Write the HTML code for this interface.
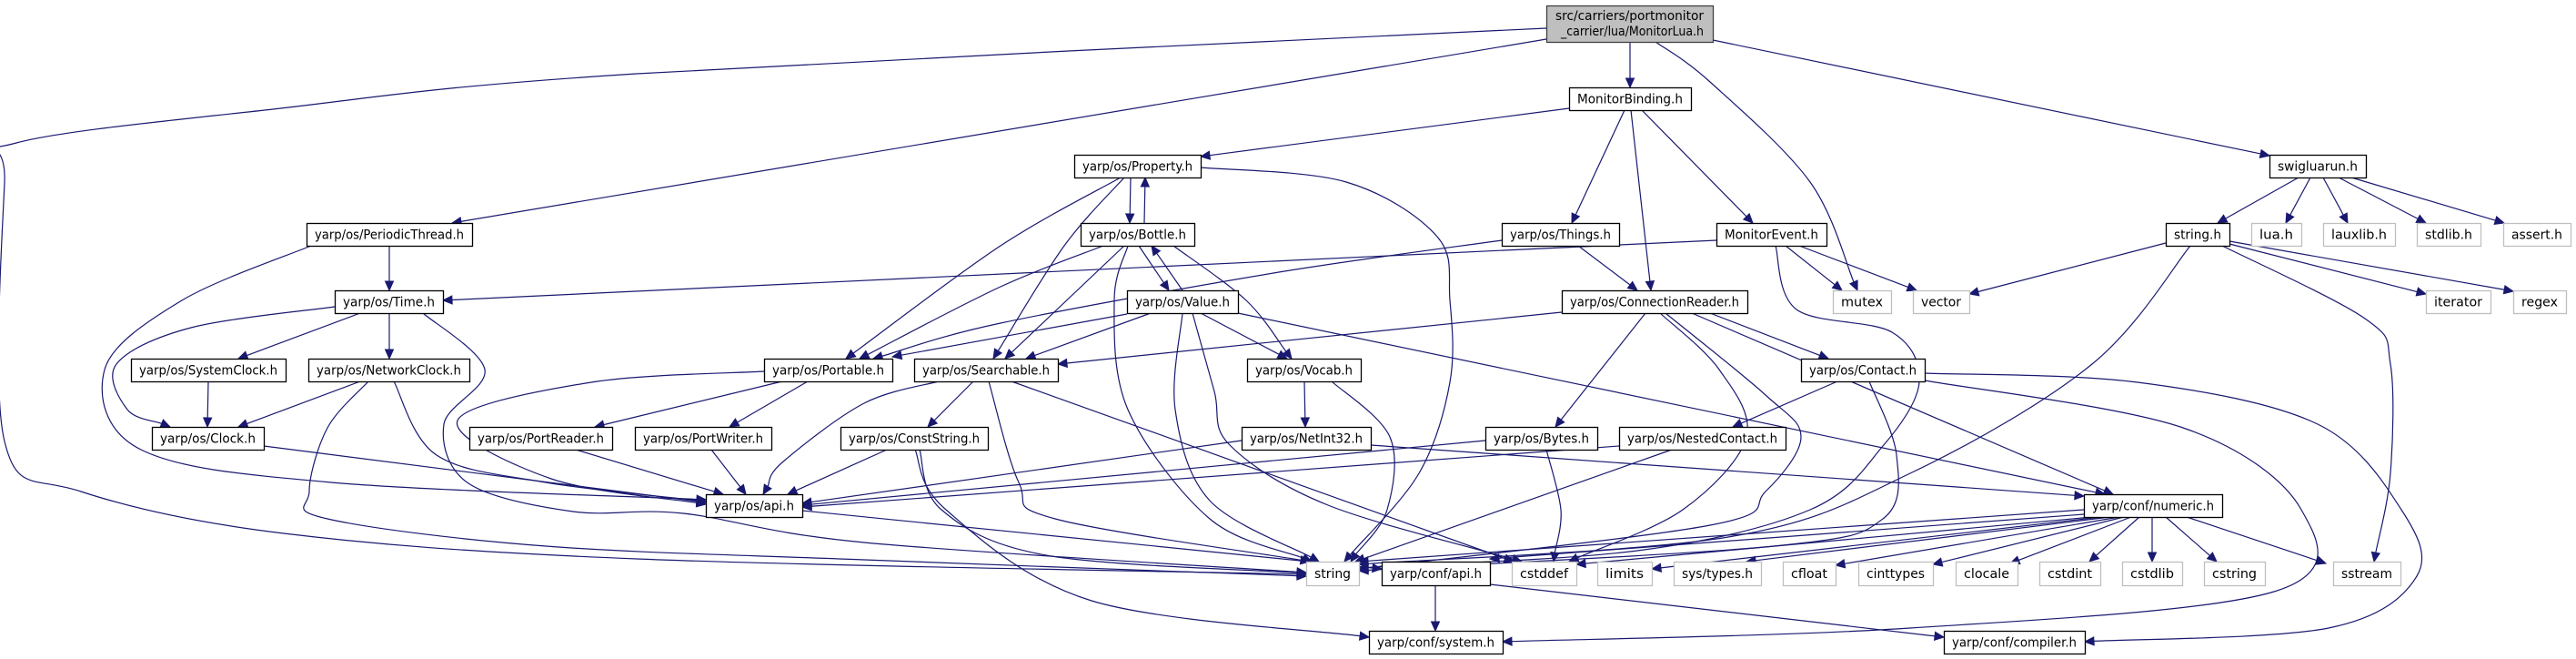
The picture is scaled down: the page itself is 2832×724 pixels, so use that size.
<!DOCTYPE html>
<html><head><meta charset="utf-8"><style>
html,body{margin:0;padding:0;background:#fff;width:2832px;height:724px;overflow:hidden}
svg{display:block}
text{font-family:"DejaVu Sans","Liberation Sans",sans-serif;font-size:14px;fill:#000}
</style></head><body>
<svg id="g" width="2832" height="724" viewBox="0 0 2832 724" xmlns="http://www.w3.org/2000/svg">
<g id="edges"></g>
<g id="nodes"></g>
</svg>
<script>
// node: [id, label(s), x1, y1, x2, y2, kind]  kind: r=root, i=internal, e=external
const nodes = [
 ["root",["src/carriers/portmonitor","_carrier/lua/MonitorLua.h"],1700,6,1883,46,"r"],
 ["mb",["MonitorBinding.h"],1725,96,1859,121,"i"],
 ["property",["yarp/os/Property.h"],1181,170,1320,195,"i"],
 ["swig",["swigluarun.h"],2495,170,2601,195,"i"],
 ["periodic",["yarp/os/PeriodicThread.h"],337,245,519,270,"i"],
 ["bottle",["yarp/os/Bottle.h"],1188,245,1313,270,"i"],
 ["things",["yarp/os/Things.h"],1651,245,1780,270,"i"],
 ["mevent",["MonitorEvent.h"],1887,245,2008,270,"i"],
 ["stringh",["string.h"],2381,245,2451,270,"i"],
 ["lua",["lua.h"],2475,245,2530,270,"e"],
 ["lauxlib",["lauxlib.h"],2554,245,2633,270,"e"],
 ["stdlib",["stdlib.h"],2657,245,2727,270,"e"],
 ["assert",["assert.h"],2752,245,2826,270,"e"],
 ["time",["yarp/os/Time.h"],368,319,487,344,"i"],
 ["value",["yarp/os/Value.h"],1239,319,1361,344,"i"],
 ["connreader",["yarp/os/ConnectionReader.h"],1717,319,1921,344,"i"],
 ["mutex",["mutex"],2015,319,2079,344,"e"],
 ["vector",["vector"],2103,319,2165,344,"e"],
 ["iterator",["iterator"],2667,319,2738,344,"e"],
 ["regex",["regex"],2763,319,2821,344,"e"],
 ["sysclock",["yarp/os/SystemClock.h"],144,394,314,419,"i"],
 ["netclock",["yarp/os/NetworkClock.h"],339,394,516,419,"i"],
 ["portable",["yarp/os/Portable.h"],840,394,981,419,"i"],
 ["searchable",["yarp/os/Searchable.h"],1005,394,1163,419,"i"],
 ["vocab",["yarp/os/Vocab.h"],1371,394,1496,419,"i"],
 ["contact",["yarp/os/Contact.h"],1980,394,2116,419,"i"],
 ["clock",["yarp/os/Clock.h"],167,469,290,494,"i"],
 ["preader",["yarp/os/PortReader.h"],516,469,673,494,"i"],
 ["pwriter",["yarp/os/PortWriter.h"],698,469,848,494,"i"],
 ["conststr",["yarp/os/ConstString.h"],924,469,1086,494,"i"],
 ["netint",["yarp/os/NetInt32.h"],1365,469,1507,494,"i"],
 ["bytes",["yarp/os/Bytes.h"],1633,469,1756,494,"i"],
 ["nested",["yarp/os/NestedContact.h"],1780,469,1963,494,"i"],
 ["api",["yarp/os/api.h"],776,543,882,568,"i"],
 ["numeric",["yarp/conf/numeric.h"],2291,543,2443,568,"i"],
 ["string",["string"],1436,617,1494,643,"e"],
 ["confapi",["yarp/conf/api.h"],1519,617,1638,643,"i"],
 ["cstddef",["cstddef"],1662,617,1733,643,"e"],
 ["limits",["limits"],1756,617,1816,643,"e"],
 ["systypes",["sys/types.h"],1840,617,1936,643,"e"],
 ["cfloat",["cfloat"],1960,617,2018,643,"e"],
 ["cinttypes",["cinttypes"],2043,617,2125,643,"e"],
 ["clocale",["clocale"],2150,617,2218,643,"e"],
 ["cstdint",["cstdint"],2242,617,2309,643,"e"],
 ["cstdlib",["cstdlib"],2333,617,2399,643,"e"],
 ["cstring",["cstring"],2423,617,2490,643,"e"],
 ["sstream",["sstream"],2565,617,2639,643,"e"],
 ["system",["yarp/conf/system.h"],1505,693,1652,718,"i"],
 ["compiler",["yarp/conf/compiler.h"],2137,693,2292,718,"i"]
];
// edges: [name, points...]
const edges = [
 ["root-string",[1700,31],[700,81],[300,120],[18,157],[5,200],[5,485],[89,540],[312,586],[700,614],[1436,631]],
 ["root-periodic",[1700,43],[497,245]],
 ["root-mb",[1792,46],[1792,96]],
 ["root-mutex",[1820,46],[1880,90],[1990,200],[2042,319]],
 ["root-swig",[1883,44],[2495,171]],
 ["mb-property",[1725,119],[1320,172]],
 ["mb-things",[1786,121],[1728,245]],
 ["mb-connreader",[1793,121],[1815,319]],
 ["mb-mevent",[1805,121],[1927,245]],
 ["property-bottle",[1243,195],[1242,245]],
 ["bottle-property",[1258,245],[1259,195]],
 ["property-portable",[1232,195],[1100,270],[930,394]],
 ["property-searchable",[1236,195],[1170,270],[1092,394]],
 ["property-string",[1320,184],[1480,200],[1580,260],[1594,330],[1594,420],[1560,520],[1478,617]],
 ["bottle-portable",[1213,270],[1100,315],[945,394]],
 ["bottle-searchable",[1236,270],[1105,394]],
 ["bottle-value",[1252,270],[1285,319]],
 ["value-bottle",[1300,319],[1266,270]],
 ["bottle-vocab",[1290,270],[1370,330],[1420,394]],
 ["bottle-string",[1240,270],[1225,330],[1240,450],[1330,570],[1442,617]],
 ["things-portable",[1651,264],[1400,300],[1100,355],[960,394]],
 ["things-connreader",[1735,270],[1800,319]],
 ["mevent-time",[1887,264],[487,330]],
 ["mevent-mutex",[1963,270],[2025,319]],
 ["mevent-vector",[1978,270],[2107,319]],
 ["mevent-string",[1952,270],[1975,340],[2080,365],[2110,420],[2070,490],[1990,560],[1800,605],[1494,624]],
 ["periodic-time",[428,270],[428,319]],
 ["periodic-api",[342,270],[200,330],[115,406],[155,494],[364,530],[776,549]],
 ["time-sysclock",[396,344],[262,394]],
 ["time-netclock",[428,344],[428,394]],
 ["time-clock",[368,337],[210,360],[128,400],[140,450],[187,469]],
 ["time-string",[465,344],[533,406],[488,466],[515,531],[630,562],[751,564],[950,596],[1436,629]],
 ["sysclock-clock",[229,419],[228,469]],
 ["netclock-clock",[396,419],[262,469]],
 ["netclock-api",[433,419],[480,500],[600,530],[776,551]],
 ["netclock-string",[405,419],[360,470],[340,540],[360,570],[600,600],[950,615],[1436,633]],
 ["clock-api",[290,490],[776,552]],
 ["portable-preader",[860,419],[654,469]],
 ["portable-pwriter",[888,419],[802,469]],
 ["portable-api",[840,408],[650,420],[503,462],[606,526],[776,554]],
 ["preader-api",[633,494],[795,543]],
 ["pwriter-api",[782,494],[820,543]],
 ["value-portable",[1239,345],[981,392]],
 ["value-searchable",[1265,344],[1128,394]],
 ["value-vocab",[1320,344],[1415,394]],
 ["value-string",[1300,344],[1292,450],[1330,550],[1450,617]],
 ["value-cstddef",[1311,344],[1335,430],[1352,489],[1460,555],[1673,617]],
 ["value-numeric",[1361,344],[2314,543]],
 ["connreader-searchable",[1717,343],[1163,400]],
 ["connreader-bytes",[1809,344],[1710,469]],
 ["connreader-contact",[1880,344],[2010,394]],
 ["connreader-string",[1831,344],[1941,434],[1980,480],[1941,540],[1880,577],[1494,625]],
 ["connreader-numeric",[1860,344],[2323,543]],
 ["connreader-cstddef",[1825,344],[1890,406],[1920,480],[1850,560],[1725,617]],
 ["searchable-conststr",[1070,419],[1020,469]],
 ["searchable-api",[1032,419],[950,443],[860,508],[839,543]],
 ["searchable-string",[1087,419],[1120,530],[1160,570],[1440,617]],
 ["searchable-cstddef",[1112,419],[1664,617]],
 ["vocab-netint",[1434,419],[1435,469]],
 ["vocab-string",[1464,419],[1528,480],[1525,560],[1485,617]],
 ["conststr-api",[975,494],[866,543]],
 ["conststr-string",[1011,494],[1035,560],[1150,610],[1436,630]],
 ["conststr-system",[1006,494],[1040,560],[1200,660],[1505,700]],
 ["netint-api",[1365,484],[882,553]],
 ["netint-numeric",[1507,489],[2291,545]],
 ["bytes-api",[1633,484],[882,555]],
 ["bytes-cstddef",[1700,494],[1716,560],[1708,617]],
 ["nested-api",[1780,490],[882,557]],
 ["nested-string",[1838,494],[1490,617]],
 ["contact-nested",[2020,419],[1905,469]],
 ["contact-string",[2055,419],[2085,500],[2070,570],[1950,600],[1494,627]],
 ["contact-system",[2116,418],[2400,470],[2530,560],[2500,650],[2100,690],[1652,705]],
 ["contact-compiler",[2116,410],[2350,420],[2548,466],[2640,560],[2657,633],[2560,690],[2292,705]],
 ["api-confapi",[882,561],[1519,625]],
 ["confapi-system",[1578,643],[1578,693]],
 ["confapi-compiler",[1638,642],[2137,700]],
 ["numeric-string",[2291,560],[1494,617]],
 ["numeric-confapi",[2291,565],[1638,614]],
 ["numeric-cstddef",[2300,568],[1733,620]],
 ["numeric-limits",[2310,568],[1816,625]],
 ["numeric-systypes",[2320,568],[1920,617]],
 ["numeric-cfloat",[2330,568],[2018,621]],
 ["numeric-cinttypes",[2335,568],[2125,620]],
 ["numeric-clocale",[2343,568],[2210,619]],
 ["numeric-cstdint",[2352,568],[2297,617]],
 ["numeric-cstdlib",[2366,568],[2366,617]],
 ["numeric-cstring",[2381,568],[2437,617]],
 ["numeric-sstream",[2404,568],[2557,619]],
 ["swig-stringh",[2527,195],[2438,245]],
 ["swig-lua",[2540,195],[2513,245]],
 ["swig-lauxlib",[2554,195],[2581,245]],
 ["swig-stdlib",[2571,195],[2667,245]],
 ["swig-assert",[2585,195],[2753,245]],
 ["stringh-vector",[2381,267],[2165,323]],
 ["stringh-string",[2408,270],[2300,400],[2100,520],[1900,590],[1494,620]],
 ["stringh-sstream",[2443,270],[2600,350],[2628,400],[2628,520],[2610,617]],
 ["stringh-iterator",[2451,268],[2667,323]],
 ["stringh-regex",[2451,265],[2763,320]]
];
const NS="http://www.w3.org/2000/svg";
const eg=document.getElementById('edges'), ng=document.getElementById('nodes');
const C="#191970";
edges.forEach(e=>{
  const name=e[0]; const p=e.slice(1).map(q=>q.slice());
  const n=p.length;
  let prev = n>2 ? p[n-2] : p[0];
  let last=p[n-1];
  let dx=last[0]-prev[0], dy=last[1]-prev[1]; let L=Math.hypot(dx,dy)||1; dx/=L; dy/=L;
  const AL=10, AW=4.5;
  const tip=[last[0],last[1]];
  p[n-1]=[last[0]-dx*AL,last[1]-dy*AL];
  let d="M"+p[0][0]+","+p[0][1];
  if(n===2){ d+=" L"+p[1][0]+","+p[1][1]; }
  else{
    for(let i=0;i<n-1;i++){
      const p0=p[Math.max(i-1,0)],p1=p[i],p2=p[i+1],p3=p[Math.min(i+2,n-1)];
      const c1=[p1[0]+(p2[0]-p0[0])/6,p1[1]+(p2[1]-p0[1])/6];
      const c2=[p2[0]-(p3[0]-p1[0])/6,p2[1]-(p3[1]-p1[1])/6];
      d+=" C"+c1[0].toFixed(1)+","+c1[1].toFixed(1)+" "+c2[0].toFixed(1)+","+c2[1].toFixed(1)+" "+p2[0].toFixed(1)+","+p2[1].toFixed(1);
    }
  }
  const g=document.createElementNS(NS,'g');
  
  
  const path=document.createElementNS(NS,'path');
  path.setAttribute('d',d); path.setAttribute('fill','none'); path.setAttribute('stroke',C); path.setAttribute('stroke-width','1.2');
  
  
  const b=[tip[0]-dx*AL,tip[1]-dy*AL];
  const poly=document.createElementNS(NS,'polygon');
  poly.setAttribute('points',tip[0]+","+tip[1]+" "+(b[0]-dy*AW)+","+(b[1]+dx*AW)+" "+(b[0]+dy*AW)+","+(b[1]-dx*AW));
  poly.setAttribute('fill',C); poly.setAttribute('stroke',C);
  
  
  g.appendChild(path); g.appendChild(poly); eg.appendChild(g);
});
nodes.forEach(nd=>{
  const [id,labels,x1,y1,x2,y2,k]=nd;
  const g=document.createElementNS(NS,'g');
  
  
  const r=document.createElementNS(NS,'rect');
  r.setAttribute('x',x1+0.5); r.setAttribute('y',y1+0.5); r.setAttribute('width',x2-x1); r.setAttribute('height',y2-y1);
  r.setAttribute('fill',k==='r'?'#bfbfbf':'#ffffff');
  r.setAttribute('stroke',k==='e'?'#bfbfbf':(k==='r'?'#404040':'#000'));
  r.setAttribute('stroke-width','1.3');
  
  
  g.appendChild(r);
  const h=y2-y1, cx=(x1+x2)/2;
  labels.forEach((s,i)=>{
    const t=document.createElementNS(NS,'text');
    const cy = labels.length===1 ? y1+h/2+5 : y1+16+i*17;
    t.setAttribute('x', labels.length===1 ? cx : x1+10+(i?6:0));
    t.setAttribute('y',cy);
    if(labels.length===1){ t.setAttribute('text-anchor','middle'); }
    const tl=Math.max(10,(labels.length===1?(x2-x1-18):(x2-x1-20-(i?6:0))));
    t.setAttribute('textLength',tl); t.setAttribute('lengthAdjust','spacingAndGlyphs');
    
    
    t.textContent=s; g.appendChild(t);
  });
  ng.appendChild(g);
});
</script>
</body></html>
